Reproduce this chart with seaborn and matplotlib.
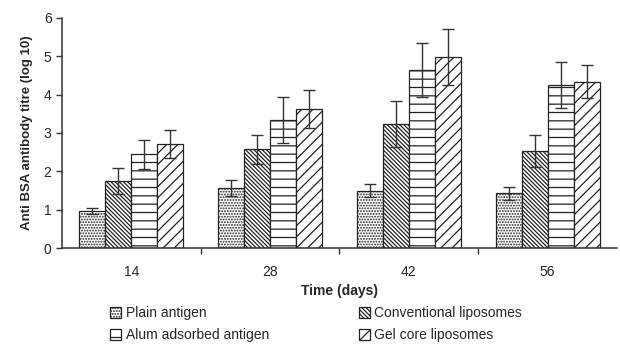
import numpy as np
import pandas as pd
import matplotlib
matplotlib.use("Agg")
import matplotlib.pyplot as plt
from matplotlib.ticker import FixedLocator
import seaborn as sns

# ── Data ──────────────────────────────────────────────────────────────────────
days = ["14", "28", "42", "56"]
groups = ["Plain antigen", "Conventional liposomes",
          "Alum adsorbed antigen", "Gel core liposomes"]

plain_mean = [0.97, 1.57, 1.50, 1.43]
plain_err = [0.08, 0.20, 0.18, 0.17]
conv_mean = [1.75, 2.57, 3.24, 2.54]
conv_err = [0.33, 0.38, 0.60, 0.42]
alum_mean = [2.45, 3.34, 4.65, 4.25]
alum_err = [0.38, 0.60, 0.70, 0.61]
gel_mean = [2.72, 3.62, 4.98, 4.34]
gel_err = [0.36, 0.50, 0.74, 0.43]

means = [plain_mean, conv_mean, alum_mean, gel_mean]
errs = [plain_err, conv_err, alum_err, gel_err]
hatches = ["......", "\\" * 8, "--", "///"]

rows = []
for g, m, e in zip(groups, means, errs):
    for d, mv, ev in zip(days, m, e):
        rows.append({"day": d, "group": g, "titre": mv, "err": ev})
df = pd.DataFrame(rows)

sns.set_style("white")
plt.rcParams["font.family"] = ["Liberation Sans", "DejaVu Sans"]
plt.rcParams["hatch.linewidth"] = 0.9

fig, ax = plt.subplots(figsize=(6.2, 3.45), dpi=100)
fig.subplots_adjust(left=0.1, right=0.995, bottom=0.281, top=0.948)

sns.barplot(data=df, x="day", y="titre", hue="group", order=days,
            hue_order=groups, errorbar=None, width=0.75,
            palette=["white"] * 4, edgecolor="#222222", linewidth=0.9,
            ax=ax, legend=True)

# hatches + error bars, one container per group
for cont, h, e in zip(ax.containers, hatches, errs):
    xs, ys = [], []
    for bar in cont:
        bar.set_hatch(h)
        xs.append(bar.get_x() + bar.get_width() / 2)
        ys.append(bar.get_height())
    ax.errorbar(xs, ys, yerr=e, fmt="none", ecolor="#333333",
                elinewidth=1.0, capsize=4, capthick=1.0, zorder=5)

ax.set_ylim(0, 6)
ax.set_xlim(-0.5, 3.5)
ax.set_yticks(range(0, 7))
ax.xaxis.set_minor_locator(FixedLocator([0.5, 1.5, 2.5]))
ax.tick_params(axis="x", which="major", length=0, pad=12, labelsize=10)
ax.tick_params(axis="x", which="minor", length=4, width=1, direction="out",
               bottom=True, color="#333333")
ax.tick_params(axis="y", length=4, width=1, direction="out", left=True,
               labelsize=10, color="#333333")
ax.set_xlabel("Time (days)", fontsize=10, fontweight="bold", labelpad=4)
ax.set_ylabel("Anti BSA antibody titre (log 10)", fontsize=9.5,
              fontweight="bold", labelpad=8)

sns.despine(ax=ax)
for s in ["left", "bottom"]:
    ax.spines[s].set_color("#333333")
    ax.spines[s].set_linewidth(1.1)

# legend below, two columns, row order Plain/Conventional then Alum/Gel
handles, labels = ax.get_legend_handles_labels()
ax.get_legend().remove()
for hd, h in zip(handles, hatches):
    hd.set_hatch(h)
    hd.set_facecolor("white")
    hd.set_edgecolor("#222222")
order = [0, 2, 1, 3]
fig.legend([handles[i] for i in order], [labels[i] for i in order],
           loc="center", bbox_to_anchor=(0.51, 0.06), ncol=2, frameon=False,
           fontsize=10, handlelength=0.8, handleheight=0.8,
           handletextpad=0.3, columnspacing=6.5, labelspacing=0.6)

fig.savefig("out.png", dpi=100)
